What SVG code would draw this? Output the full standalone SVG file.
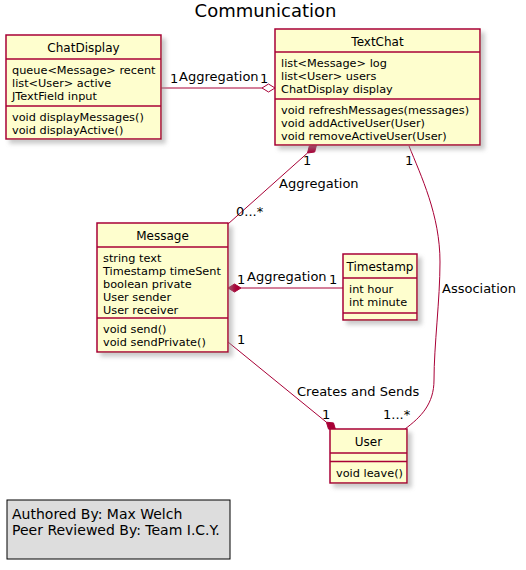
<svg xmlns="http://www.w3.org/2000/svg" width="526" height="570" viewBox="0 0 526 570">
<style>
text{font-family:"DejaVu Sans","Liberation Sans",sans-serif;fill:#000}
.box{fill:#FEFECE;stroke:#A80036;stroke-width:1.5}
.sep{stroke:#A80036;stroke-width:1.5}
.nm{font-size:12px;text-anchor:middle}
.mb{font-size:11.3px}
.lk{fill:none;stroke:#A80036;stroke-width:1}
.fd{fill:#A80036;stroke:#A80036;stroke-width:1}
.od{fill:#FFFFFF;stroke:#A80036;stroke-width:1}
.lb{font-size:13px}
.title{font-size:18px;text-anchor:middle}
.note{fill:#DDDDDD;stroke:#000;stroke-width:1}
.nt{font-size:14px}
</style>
<defs>
<filter id="sh" x="-10%" y="-10%" width="130%" height="130%">
<feGaussianBlur in="SourceAlpha" stdDeviation="2" result="b"/>
<feOffset in="b" dx="4" dy="4" result="o"/>
<feColorMatrix in="o" type="matrix" values="0 0 0 0 0.3 0 0 0 0 0.3 0 0 0 0 0.3 0 0 0 0.5 0" result="c"/>
<feMerge><feMergeNode in="c"/><feMergeNode in="SourceGraphic"/></feMerge>
</filter>
</defs>
<rect width="526" height="570" fill="#FFFFFF"/>
<text class="title" x="265.5" y="17">Communication</text>

<g id="connectors">
<!-- ChatDisplay - TextChat -->
<line class="lk" x1="161" y1="88" x2="262" y2="88"/>
<polygon class="od" points="262,88 268.5,84 275,88 268.5,92"/>
<text class="lb" x="170" y="83">1</text>
<text class="lb" x="179" y="81">Aggregation</text>
<text class="lb" x="260" y="83">1</text>
<!-- TextChat - Message -->
<line class="lk" x1="228" y1="224" x2="307.5" y2="153"/>
<polygon class="fd" points="307.5,153 314.7,152 316.5,145 309.3,146"/>
<text class="lb" x="303" y="164.5">1</text>
<text class="lb" x="279" y="188">Aggregation</text>
<text class="lb" x="236" y="216">0...*</text>
<!-- TextChat - User -->
<path class="lk" d="M409,146 C421,176 440,215 440,262 C440,300 434,345 434,380 C434,404 421,417 405,429"/>
<text class="lb" x="405" y="165">1</text>
<text class="lb" x="442" y="293">Association</text>
<text class="lb" x="383" y="419">1...*</text>
<!-- Message - Timestamp -->
<line class="lk" x1="241" y1="288" x2="343" y2="288"/>
<polygon class="fd" points="228,288 234.5,284 241,288 234.5,292"/>
<text class="lb" x="237" y="284">1</text>
<text class="lb" x="247" y="281">Aggregation</text>
<text class="lb" x="329" y="284">1</text>
<!-- Message - User -->
<line class="lk" x1="228" y1="342" x2="326.4" y2="422.2"/>
<polygon class="fd" points="326.4,422.2 328.5,429.1 335.6,429.8 333.5,422.9"/>
<text class="lb" x="237" y="344">1</text>
<text class="lb" x="297" y="396">Creates and Sends</text>
<text class="lb" x="322" y="419">1</text>
</g>

<g id="ChatDisplay">
<rect class="box" x="6" y="35" width="155" height="104" filter="url(#sh)"/>
<line class="sep" x1="6" y1="59" x2="161" y2="59"/>
<line class="sep" x1="6" y1="106" x2="161" y2="106"/>
<text class="nm" x="83.5" y="52">ChatDisplay</text>
<text class="mb" x="12" y="74">queue&lt;Message&gt; recent</text>
<text class="mb" x="12" y="87">list&lt;User&gt; active</text>
<text class="mb" x="12" y="100">JTextField input</text>
<text class="mb" x="12" y="121">void displayMessages()</text>
<text class="mb" x="12" y="134">void displayActive()</text>
</g>

<g id="TextChat">
<rect class="box" x="275" y="29" width="205" height="116" filter="url(#sh)"/>
<line class="sep" x1="275" y1="52" x2="480" y2="52"/>
<line class="sep" x1="275" y1="99" x2="480" y2="99"/>
<text class="nm" x="377.5" y="45.5">TextChat</text>
<text class="mb" x="281" y="67">list&lt;Message&gt; log</text>
<text class="mb" x="281" y="80">list&lt;User&gt; users</text>
<text class="mb" x="281" y="93">ChatDisplay display</text>
<text class="mb" x="281" y="114">void refreshMessages(messages)</text>
<text class="mb" x="281" y="127">void addActiveUser(User)</text>
<text class="mb" x="281" y="140">void removeActiveUser(User)</text>
</g>

<g id="Message">
<rect class="box" x="97" y="223" width="131" height="129" filter="url(#sh)"/>
<line class="sep" x1="97" y1="247" x2="228" y2="247"/>
<line class="sep" x1="97" y1="318" x2="228" y2="318"/>
<text class="nm" x="162.5" y="239.5">Message</text>
<text class="mb" x="103" y="262">string text</text>
<text class="mb" x="103" y="275">Timestamp timeSent</text>
<text class="mb" x="103" y="288">boolean private</text>
<text class="mb" x="103" y="301">User sender</text>
<text class="mb" x="103" y="314">User receiver</text>
<text class="mb" x="103" y="333">void send()</text>
<text class="mb" x="103" y="346">void sendPrivate()</text>
</g>

<g id="Timestamp">
<rect class="box" x="343" y="254" width="74" height="66" filter="url(#sh)"/>
<line class="sep" x1="343" y1="278" x2="417" y2="278"/>
<line class="sep" x1="343" y1="313" x2="417" y2="313"/>
<text class="nm" x="380" y="270.5">Timestamp</text>
<text class="mb" x="349" y="293">int hour</text>
<text class="mb" x="349" y="306">int minute</text>
</g>

<g id="User">
<rect class="box" x="330" y="429" width="77" height="54" filter="url(#sh)"/>
<line class="sep" x1="330" y1="453" x2="407" y2="453"/>
<line class="sep" x1="330" y1="461.5" x2="407" y2="461.5"/>
<text class="nm" x="368.5" y="445.5">User</text>
<text class="mb" x="336" y="476.5">void leave()</text>
</g>

<g id="legend">
<rect class="note" x="7" y="500" width="223" height="59"/>
<text class="nt" x="12" y="519">Authored By: Max Welch</text>
<text class="nt" x="12" y="535">Peer Reviewed By: Team I.C.Y.</text>
</g>
</svg>
